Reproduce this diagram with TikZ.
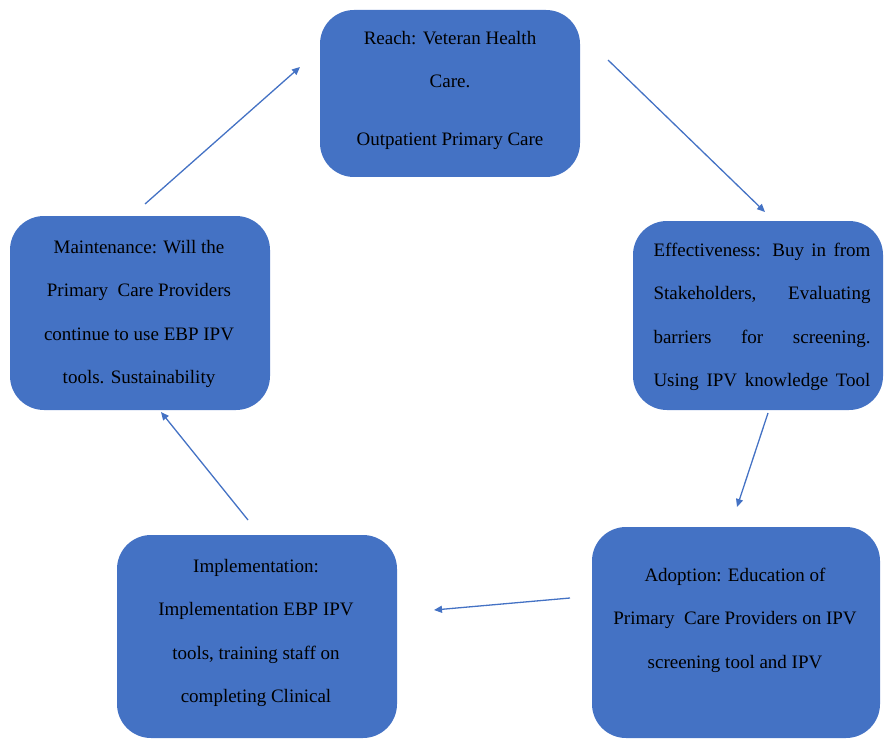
\documentclass[tikz,border=0pt]{standalone}
\usepackage{fontspec}
\setmainfont{Liberation Serif}
\usetikzlibrary{arrows.meta}
\definecolor{boxblue}{HTML}{4472C4}
\begin{document}
\begin{tikzpicture}[x=1pt,y=-1pt,
  box/.style={fill=boxblue,draw=none,rounded corners=34pt},
  txt/.style={align=center,inner sep=0pt,font=\fontsize{19}{43.5}\selectfont,text=black},
  conn/.style={draw=boxblue,line width=1.3pt,-{Triangle[length=8pt,width=7pt]}}]
\useasboundingbox (0,0) rectangle (885,738);
% boxes
\path[box] (320,10) rectangle (580,177);
\path[box] (633,221) rectangle (883,410);
\path[box] (592,527) rectangle (880,738);
\path[box] (117,535) rectangle (397,738);
\path[box] (10,216) rectangle (270,410);
% texts
\node[txt] (reach) at (450,90) {Reach: Veteran Health\\Care.\\[14pt]Outpatient Primary Care};
\node[txt] (eff) at (762,317) {\makebox[217pt][s]{Effectiveness: Buy in from}\\\makebox[217pt][s]{Stakeholders, \hfill Evaluating}\\\makebox[217pt][s]{barriers \hfill for \hfill screening.}\\\makebox[217pt][s]{Using IPV knowledge Tool}};
\node[txt] (adopt) at (735,620) {Adoption: Education of\\Primary\ \ Care Providers on IPV\\screening tool and IPV};
\node[txt] (impl) at (256,633) {Implementation:\\Implementation EBP IPV\\tools, training staff on\\completing Clinical};
\node[txt] (maint) at (139,314) {Maintenance: Will the\\Primary\ \ Care Providers\\continue to use EBP IPV\\tools. Sustainability};
% connector ends
\coordinate (m1) at (145,204); \coordinate (r1) at (300,67);
\coordinate (r2) at (608,60);  \coordinate (e1) at (765,212);
\coordinate (e2) at (768,413); \coordinate (a1) at (737,507);
\coordinate (a2) at (570,598); \coordinate (i1) at (434,610);
\coordinate (i2) at (248,520); \coordinate (m2) at (161,412);
\draw[conn] (m1) -- (r1);
\draw[conn] (r2) -- (e1);
\draw[conn] (e2) -- (a1);
\draw[conn] (a2) -- (i1);
\draw[conn] (i2) -- (m2);
\end{tikzpicture}
\end{document}
